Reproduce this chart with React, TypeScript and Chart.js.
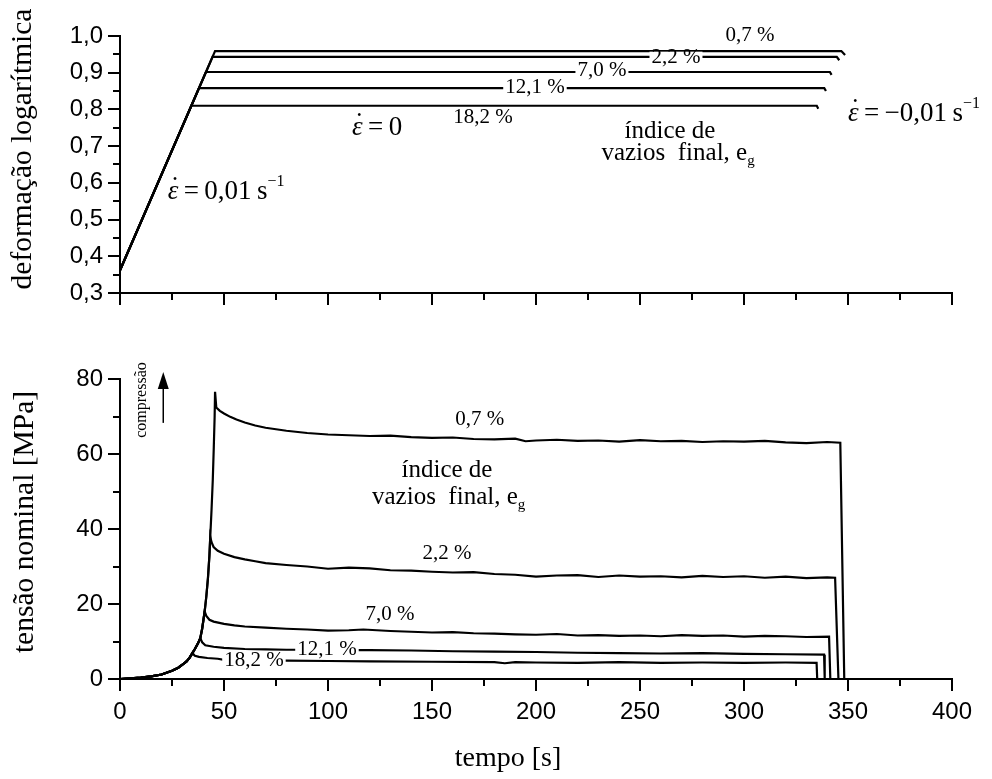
import React, { useEffect, useRef } from 'react';
import { Chart, registerables } from 'chart.js';
Chart.register(...registerables);

// ---------- Top panel: logarithmic strain ----------
const strainSeries = ['0,7 %', '2,2 %', '7,0 %', '12,1 %', '18,2 %'];
const strainStart = 0.362;
const strainKneeTime = [45.7, 44.5, 41.3, 38.0, 34.3];
const strainLevel = [0.959, 0.943, 0.902, 0.858, 0.81];
const strainHoldEnd = [346.8, 344.6, 341.3, 338.6, 335.0];
const strainUnloadTime = [348.6, 345.8, 342.1, 339.4, 335.7];
const strainUnloadLevel = [0.948, 0.934, 0.894, 0.85, 0.802];
const strainTicks = [0.3, 0.4, 0.5, 0.6, 0.7, 0.8, 0.9, 1.0];

// ---------- Bottom panel: nominal stress ----------
const riseTime = [0, 5, 10, 15, 20, 25, 28, 30, 32, 33.5, 34.8, 36, 37.5, 38.6, 39.5, 40.1, 40.7, 41.5, 42.3, 43, 43.4, 44, 44.6, 45.1, 45.5, 45.7];
const riseStress = [0, 0.15, 0.35, 0.7, 1.2, 2.2, 3.0, 3.8, 4.7, 5.7, 6.9, 8.0, 9.5, 10.9, 13.4, 15.7, 18, 22, 27, 33, 38, 45, 53, 62, 70, 76.6];
const peakTime = [45.7, 43.4, 40.7, 38.6, 34.8];

const relaxTime07 = [46.3, 48, 50, 53, 56, 60, 65, 70, 75, 80, 90, 100, 110, 120, 130, 140, 150, 160, 170, 180, 190, 195, 200, 210, 220, 230, 240, 250, 260, 270, 280, 290, 300, 310, 320, 330, 340, 346.3, 348.2];
const relaxStress07 = [72.4, 71.5, 70.8, 69.9, 69.2, 68.4, 67.6, 67.0, 66.6, 66.2, 65.6, 65.2, 65.0, 64.8, 64.9, 64.5, 64.3, 64.4, 64.0, 63.9, 64.1, 63.4, 63.6, 63.8, 63.5, 63.6, 63.3, 63.7, 63.4, 63.5, 63.2, 63.4, 63.3, 63.5, 63.1, 62.9, 63.2, 63.0, 0];
const relaxTime22 = [44, 45, 47, 50, 55, 60, 65, 70, 80, 90, 100, 110, 120, 130, 140, 150, 160, 170, 180, 190, 200, 210, 220, 230, 240, 250, 260, 270, 280, 290, 300, 310, 320, 330, 340, 343.8, 345.4];
const relaxStress22 = [36.5, 35.2, 34.2, 33.4, 32.5, 31.9, 31.4, 30.9, 30.4, 30.0, 29.4, 29.7, 29.5, 29.0, 28.9, 28.6, 28.4, 28.5, 28.0, 27.8, 27.3, 27.6, 27.7, 27.2, 27.6, 27.3, 27.4, 27.1, 27.5, 27.2, 27.4, 27.0, 27.3, 26.9, 27.1, 27.0, 0];
const relaxTime70 = [41.5, 43, 45, 50, 55, 60, 70, 80, 90, 100, 110, 117, 130, 140, 150, 160, 170, 180, 190, 200, 210, 220, 230, 240, 250, 260, 270, 280, 290, 300, 310, 320, 330, 340.9, 341.5];
const relaxStress70 = [16.8, 15.8, 15.3, 14.7, 14.3, 14.0, 13.7, 13.4, 13.2, 12.9, 13.0, 13.2, 12.8, 12.6, 12.4, 12.5, 12.2, 12.1, 11.9, 11.8, 12.0, 11.6, 11.7, 11.5, 11.6, 11.4, 11.7, 11.5, 11.6, 11.3, 11.5, 11.4, 11.2, 11.3, 0];
const relaxTime121 = [39.5, 41, 45, 50, 60, 70, 80, 90, 100, 120, 140, 160, 180, 200, 220, 240, 260, 280, 300, 320, 338.5, 338.8];
const relaxStress121 = [9.8, 9.0, 8.6, 8.3, 8.0, 7.9, 7.8, 7.8, 7.7, 7.7, 7.6, 7.4, 7.3, 7.2, 7.0, 6.9, 6.8, 6.9, 6.7, 6.6, 6.5, 0];
const relaxTime182 = [36, 38, 42, 47, 50, 60, 80, 100, 120, 150, 180, 185, 190, 200, 220, 240, 260, 280, 300, 320, 334.9, 335.2];
const relaxStress182 = [6.2, 5.9, 5.6, 5.4, 5.1, 5.0, 4.9, 4.8, 4.7, 4.6, 4.5, 4.2, 4.5, 4.4, 4.3, 4.5, 4.3, 4.4, 4.3, 4.4, 4.3, 0];
const relaxTimes = [relaxTime07, relaxTime22, relaxTime70, relaxTime121, relaxTime182];
const relaxStresses = [relaxStress07, relaxStress22, relaxStress70, relaxStress121, relaxStress182];
const stressTicks = [0, 20, 40, 60, 80];
const timeTicks = [0, 50, 100, 150, 200, 250, 300, 350, 400];

// ---------- styling ----------
const SERIF = '"Liberation Serif", "Times New Roman", serif';
const SANS = '"Liberation Sans", Arial, sans-serif';
const W = 992;

type Part = { t: string; f: string; dy?: number; over?: boolean };
type Label = { x: number; y: number; parts: Part[]; bg?: boolean; bh?: number };

const pct = (s: string): Part[] => [{ t: s, f: `21px ${SERIF}` }];
const epsParts = (rest: string): Part[] => [
  { t: 'ε', f: `italic 27px ${SERIF}` },
  { t: '˙', f: `27px ${SERIF}`, over: true, dy: -4 },
  { t: rest, f: `27px ${SERIF}` },
];
const indiceParts: Part[] = [{ t: 'índice de', f: `25px ${SERIF}` }];
const vaziosParts: Part[] = [
  { t: 'vazios  final, e', f: `25px ${SERIF}` },
  { t: 'g', f: `15px ${SERIF}`, dy: 8 },
];

const topLabels: Label[] = [
  { x: 302.9, y: 1.0005, parts: pct('0,7 %') },
  { x: 267.3, y: 0.941, parts: pct('2,2 %'), bg: true, bh: 12 },
  { x: 231.7, y: 0.905, parts: pct('7,0 %'), bg: true },
  { x: 199.5, y: 0.86, parts: pct('12,1 %'), bg: true },
  { x: 174.5, y: 0.777, parts: pct('18,2 %') },
  { x: 123.6, y: 0.749, parts: epsParts('\u2009=\u20090') },
  { x: 51, y: 0.575, parts: [...epsParts('\u2009=\u20090,01\u2009s'), { t: '−1', f: `16px ${SERIF}`, dy: -10 }] },
  { x: 381.7, y: 0.787, parts: [...epsParts('\u2009=\u2009−0,01\u2009s'), { t: '−1', f: `16px ${SERIF}`, dy: -10 }] },
  { x: 264.4, y: 0.741, parts: indiceParts },
  { x: 268.3, y: 0.681, parts: vaziosParts },
];

const bottomLabels: Label[] = [
  { x: 173, y: 69.3, parts: pct('0,7 %') },
  { x: 157.2, y: 55.5, parts: indiceParts },
  { x: 158, y: 48.5, parts: vaziosParts },
  { x: 157.2, y: 33.6, parts: pct('2,2 %') },
  { x: 129.8, y: 17.1, parts: pct('7,0 %') },
  { x: 99.5, y: 8.0, parts: pct('12,1 %'), bg: true },
  { x: 64.4, y: 4.9, parts: pct('18,2 %'), bg: true },
];

function drawParts(ctx: CanvasRenderingContext2D, parts: Part[], cx: number, cy: number, bg?: boolean, bh = 14) {
  const widths = parts.map((p) => {
    ctx.font = p.f;
    return p.over ? 0 : ctx.measureText(p.t).width;
  });
  const total = widths.reduce((a, b) => a + b, 0);
  let x = cx - total / 2;
  if (bg) {
    ctx.fillStyle = '#fff';
    ctx.fillRect(x - 2, cy - bh / 2, total + 4, bh);
  }
  ctx.fillStyle = '#000';
  ctx.textBaseline = 'middle';
  let prevX = x;
  let prevW = 0;
  parts.forEach((p, i) => {
    ctx.font = p.f;
    if (p.over) {
      ctx.textAlign = 'center';
      ctx.fillText(p.t, prevX + prevW / 2 + 2, cy + (p.dy || 0));
      return;
    }
    ctx.textAlign = 'left';
    ctx.fillText(p.t, x, cy + (p.dy || 0));
    prevX = x;
    prevW = widths[i];
    x += widths[i];
  });
}

function drawRotated(ctx: CanvasRenderingContext2D, text: string, font: string, cx: number, cy: number) {
  ctx.save();
  ctx.translate(cx, cy);
  ctx.rotate(-Math.PI / 2);
  ctx.font = font;
  ctx.fillStyle = '#000';
  ctx.textAlign = 'center';
  ctx.textBaseline = 'middle';
  ctx.fillText(text, 0, 0);
  ctx.restore();
}

function drawTickMarks(chart: any, xStep: number, xMajor: number, yStep: number, yMajor: number) {
  const { ctx, chartArea, scales } = chart;
  const x = scales.x;
  const y = scales.y;
  ctx.save();
  ctx.strokeStyle = '#000';
  ctx.lineWidth = 2;
  const isMajor = (v: number, m: number) => Math.abs(v / m - Math.round(v / m)) < 1e-6;
  const nx = Math.round((x.max - x.min) / xStep);
  for (let i = 0; i <= nx; i++) {
    const v = x.min + i * xStep;
    const px = Math.round(x.getPixelForValue(v));
    const len = isMajor(v, xMajor) ? 12 : 7;
    ctx.beginPath();
    ctx.moveTo(px, chartArea.bottom);
    ctx.lineTo(px, chartArea.bottom + len);
    ctx.stroke();
  }
  const ny = Math.round((y.max - y.min) / yStep);
  for (let i = 0; i <= ny; i++) {
    const v = y.min + i * yStep;
    const py = Math.round(y.getPixelForValue(v));
    const len = isMajor(v, yMajor) ? 12 : 7;
    ctx.beginPath();
    ctx.moveTo(chartArea.left, py);
    ctx.lineTo(chartArea.left - len, py);
    ctx.stroke();
  }
  ctx.restore();
}

function baseScales(yMin: number, yMax: number, yStep: number, fmt: (v: number) => string, showX: boolean, xHeight: number) {
  return {
    x: {
      type: 'linear',
      min: 0,
      max: 400,
      afterFit: (s: any) => { s.height = xHeight; },
      grid: { display: false, drawTicks: false },
      border: { display: true, color: '#000', width: 2 },
      ticks: {
        display: showX,
        stepSize: 50,
        padding: 19,
        color: '#000',
        font: { family: SANS, size: 24 },
        callback: (v: number) => (timeTicks.includes(v) ? String(v) : ''),
      },
    },
    y: {
      type: 'linear',
      min: yMin,
      max: yMax,
      afterFit: (s: any) => { s.width = 120; },
      grid: { display: false, drawTicks: false },
      border: { display: true, color: '#000', width: 2 },
      ticks: {
        stepSize: yStep,
        padding: 17,
        color: '#000',
        font: { family: SANS, size: 24 },
        callback: (v: number) => fmt(v),
      },
    },
  };
}

function lineDs(data: { x: number; y: number }[]) {
  return {
    data,
    borderColor: '#000',
    borderWidth: 2.2,
    pointRadius: 0,
    tension: 0,
    fill: false,
  };
}

function TopChart() {
  const ref = useRef<HTMLCanvasElement>(null);
  useEffect(() => {
    const datasets = strainSeries.map((_, i) => lineDs([
      { x: 0, y: strainStart },
      { x: strainKneeTime[i], y: strainLevel[i] },
      { x: strainHoldEnd[i], y: strainLevel[i] },
      { x: strainUnloadTime[i], y: strainUnloadLevel[i] },
    ]));
    const plugin = {
      id: 'topDecor',
      afterDatasetsDraw(chart: any) {
        const { ctx, scales } = chart;
        drawTickMarks(chart, 25, 50, 0.05, 0.1);
        topLabels.forEach((l) => drawParts(ctx, l.parts, scales.x.getPixelForValue(l.x), scales.y.getPixelForValue(l.y), l.bg, l.bh));
        drawRotated(ctx, 'deformação logarítmica', `29.5px ${SERIF}`, 23, 149);
      },
    };
    const chart = new Chart(ref.current as HTMLCanvasElement, {
      type: 'line',
      data: { datasets } as any,
      options: {
        animation: false,
        responsive: false,
        layout: { padding: { left: 0, right: 40, top: 36, bottom: 0 } },
        plugins: { legend: { display: false }, tooltip: { enabled: false } },
        scales: baseScales(0.3, 1.0, 0.1, (v) => (strainTicks.some((t) => Math.abs(t - v) < 1e-6) ? v.toFixed(1).replace('.', ',') : ''), false, 37) as any,
      },
      plugins: [plugin],
    });
    return () => chart.destroy();
  }, []);
  return <canvas ref={ref} width={W} height={330} style={{ position: 'absolute', left: 0, top: 0 }} />;
}

function BottomChart() {
  const ref = useRef<HTMLCanvasElement>(null);
  useEffect(() => {
    const datasets = peakTime.map((pt, i) => {
      const pts: { x: number; y: number }[] = [];
      riseTime.forEach((t, k) => { if (t <= pt + 1e-9) pts.push({ x: t, y: riseStress[k] }); });
      relaxTimes[i].forEach((t, k) => pts.push({ x: t, y: relaxStresses[i][k] }));
      return lineDs(pts);
    });
    const plugin = {
      id: 'bottomDecor',
      afterDatasetsDraw(chart: any) {
        const { ctx, scales } = chart;
        drawTickMarks(chart, 25, 50, 10, 20);
        bottomLabels.forEach((l) => drawParts(ctx, l.parts, scales.x.getPixelForValue(l.x), scales.y.getPixelForValue(l.y), l.bg, l.bh));
        drawRotated(ctx, 'tensão nominal [MPa]', `29.5px ${SERIF}`, 25, 192);
        drawRotated(ctx, 'compressão', `16px ${SERIF}`, scales.x.getPixelForValue(10.4), scales.y.getPixelForValue(74.4));
        // arrow
        const ax = scales.x.getPixelForValue(20.8);
        const y0 = scales.y.getPixelForValue(68.3);
        const y1 = scales.y.getPixelForValue(81.9);
        ctx.save();
        ctx.strokeStyle = '#000';
        ctx.fillStyle = '#000';
        ctx.lineWidth = 1.5;
        ctx.beginPath();
        ctx.moveTo(ax, y0);
        ctx.lineTo(ax, y1 + 12);
        ctx.stroke();
        ctx.beginPath();
        ctx.moveTo(ax, y1);
        ctx.lineTo(ax - 5.5, y1 + 17);
        ctx.lineTo(ax + 5.5, y1 + 17);
        ctx.closePath();
        ctx.fill();
        ctx.restore();
        // x axis title
        ctx.save();
        ctx.font = `28px ${SERIF}`;
        ctx.fillStyle = '#000';
        ctx.textAlign = 'center';
        ctx.textBaseline = 'alphabetic';
        ctx.fillText('tempo [s]', 508, 436);
        ctx.restore();
      },
    };
    const chart = new Chart(ref.current as HTMLCanvasElement, {
      type: 'line',
      data: { datasets } as any,
      options: {
        animation: false,
        responsive: false,
        layout: { padding: { left: 0, right: 40, top: 49, bottom: 0 } },
        plugins: { legend: { display: false }, tooltip: { enabled: false } },
        scales: baseScales(0, 80, 20, (v) => (stressTicks.includes(v) ? String(v) : ''), true, 100) as any,
      },
      plugins: [plugin],
    });
    return () => chart.destroy();
  }, []);
  return <canvas ref={ref} width={W} height={449} style={{ position: 'absolute', left: 0, top: 330 }} />;
}

export default function App() {
  return (
    <div style={{ position: 'fixed', left: 0, top: 0, width: W, height: 779, background: '#fff', overflow: 'hidden' }}>
      <TopChart />
      <BottomChart />
    </div>
  );
}
